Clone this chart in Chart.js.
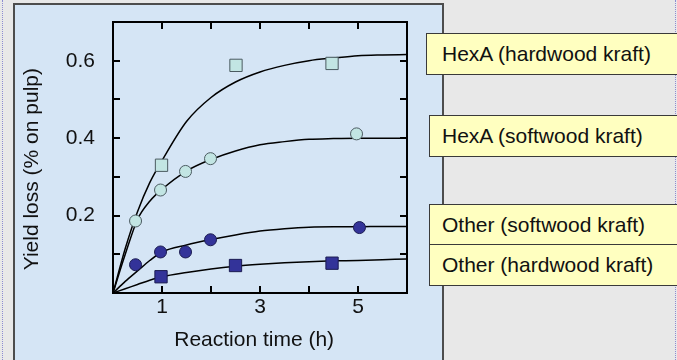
<!DOCTYPE html>
<html>
<head>
<meta charset="utf-8">
<script src="https://cdn.jsdelivr.net/npm/chart.js@4.4.0/dist/chart.umd.min.js"></script>
<style>
  html, body { margin: 0; padding: 0; }
  body { width: 677px; height: 360px; background: #e8e8e8; position: relative; overflow: hidden;
         font-family: "Liberation Sans", Arial, sans-serif; }
  .dots { position: absolute; top: 0; width: 0; height: 360px; border-left: 1px dotted #8c8cd2; }
  .panel { position: absolute; left: 13px; top: 3px; width: 431px; height: 380px; box-sizing: border-box;
           background: #d5e5f5; border: 2px solid #4d4d4d; }
  #chart { position: absolute; left: 0; top: 0; }
  .tag { position: absolute; height: 42px; width: 300px; box-sizing: border-box; background: #ffffc0;
         border: 1px solid #3a3a3a; font-size: 21px; line-height: 40px; color: #111; white-space: nowrap; }
</style>
</head>
<body>
<div class="dots" style="left:2px"></div>
<div class="dots" style="left:675px"></div>
<div class="panel"></div>
<canvas id="chart" width="677" height="360"></canvas>
<div id="tags"></div>
<script>
// series names (also used for the yellow label boxes)
const seriesNames = ['HexA (hardwood kraft)', 'HexA (softwood kraft)', 'Other (softwood kraft)', 'Other (hardwood kraft)'];

// measured points (reaction time h, yield loss % on pulp)
const hexaHardT = [0.99, 2.51, 4.47];
const hexaHardY = [0.33, 0.588, 0.593];
const hexaSoftT = [0.46, 0.97, 1.48, 1.99, 4.97];
const hexaSoftY = [0.186, 0.266, 0.314, 0.347, 0.411];
const otherSoftT = [0.46, 0.97, 1.48, 1.99, 5.03];
const otherSoftY = [0.073, 0.106, 0.106, 0.1375, 0.169];
const otherHardT = [0.98, 2.5, 4.47];
const otherHardY = [0.042, 0.071, 0.077];

// fitted curves
const curveT = [0, 0.25, 0.5, 0.75, 1, 1.5, 2, 2.5, 3, 3.5, 4, 4.5, 5, 5.5, 6];
const hexaHardFit = [0, 0.115, 0.21, 0.285, 0.342, 0.443, 0.505, 0.545, 0.571, 0.588, 0.6, 0.607, 0.613, 0.615, 0.616];
const hexaSoftFit = [0, 0.1, 0.19, 0.237, 0.268, 0.315, 0.345, 0.367, 0.383, 0.391, 0.397, 0.399, 0.4, 0.4, 0.4];
const otherSoftFit = [0, 0.03, 0.057, 0.084, 0.106, 0.124, 0.138, 0.15, 0.16, 0.166, 0.17, 0.171, 0.171, 0.172, 0.172];
const otherHardFit = [0, 0.011, 0.022, 0.033, 0.042, 0.053, 0.062, 0.069, 0.074, 0.078, 0.081, 0.083, 0.084, 0.086, 0.088];

// tick labels shown
const xLabels = [1, 3, 5];
const yLabels = ['0.2', '0.4', '0.6'];

const pts = (xs, ys) => xs.map((x, i) => ({ x, y: ys[i] }));

const lightFill = '#c2e5e3';
const darkFill = '#333399';

function marker(label, xs, ys, style, fill, border, r) {
  return {
    label, data: pts(xs, ys), showLine: false, order: 1,
    pointStyle: style, pointRadius: r, pointBackgroundColor: fill,
    pointBorderColor: border, pointBorderWidth: 1
  };
}
function curve(label, ys) {
  return {
    label, data: pts(curveT, ys), showLine: true, order: 2,
    borderColor: '#000', borderWidth: 1.5, pointRadius: 0,
    cubicInterpolationMode: 'monotone'
  };
}

// inward tick marks + frame around the plot
const frameTicks = {
  id: 'frameTicks',
  beforeDatasetsDraw(chart) {
    const { ctx, chartArea: a, scales: { x, y } } = chart;
    const len = 7;
    ctx.save();
    ctx.strokeStyle = '#000';
    ctx.lineWidth = 2;
    ctx.beginPath();
    x.ticks.forEach(t => {
      if (t.value <= x.min || t.value >= x.max) return;
      const px = Math.round(x.getPixelForValue(t.value));
      ctx.moveTo(px, a.bottom); ctx.lineTo(px, a.bottom - len);
      ctx.moveTo(px, a.top); ctx.lineTo(px, a.top + len);
    });
    y.ticks.forEach(t => {
      if (t.value <= y.min + 1e-9 || t.value >= y.max - 1e-9) return;
      const py = Math.round(y.getPixelForValue(t.value));
      ctx.moveTo(a.left, py); ctx.lineTo(a.left + len, py);
      ctx.moveTo(a.right, py); ctx.lineTo(a.right - len, py);
    });
    ctx.stroke();
    ctx.strokeRect(a.left, a.top, a.right - a.left, a.bottom - a.top);
    ctx.restore();
  }
};

Chart.defaults.font.family = '"Liberation Sans", Arial, sans-serif';
Chart.defaults.font.size = 21;
Chart.defaults.color = '#111';

new Chart(document.getElementById('chart'), {
  type: 'scatter',
  data: {
    datasets: [
      marker(seriesNames[0], hexaHardT, hexaHardY, 'rect', lightFill, '#4a5a60', 8.7),
      marker(seriesNames[1], hexaSoftT, hexaSoftY, 'circle', lightFill, '#4a5a60', 6),
      marker(seriesNames[2], otherSoftT, otherSoftY, 'circle', darkFill, '#1a1a50', 6),
      marker(seriesNames[3], otherHardT, otherHardY, 'rect', darkFill, '#1a1a50', 8.7),
      curve(seriesNames[0], hexaHardFit),
      curve(seriesNames[1], hexaSoftFit),
      curve(seriesNames[2], otherSoftFit),
      curve(seriesNames[3], otherHardFit)
    ]
  },
  options: {
    responsive: false,
    animation: false,
    devicePixelRatio: 1,
    layout: { padding: { left: 0, top: 22, right: 270, bottom: 0 } },
    plugins: { legend: { display: false }, tooltip: { enabled: false } },
    scales: {
      x: {
        type: 'linear', min: 0, max: 6,
        grid: { display: false, drawTicks: false },
        border: { display: false },
        ticks: {
          stepSize: 1, padding: 2,
          callback: v => xLabels.includes(v) ? String(v) : ''
        },
        title: { display: true, text: 'Reaction time (h)\u00a0\u00a0', padding: { top: 0, bottom: 7 } },
        afterFit: s => { s.height = 67; s.paddingLeft = 0; s.paddingRight = 0; }
      },
      y: {
        type: 'linear', min: 0, max: 0.7,
        grid: { display: false, drawTicks: false },
        border: { display: false },
        ticks: {
          stepSize: 0.1, padding: 18,
          callback: v => {
            const s = (Math.round(v * 10) / 10).toFixed(1);
            return yLabels.includes(s) ? s : '';
          }
        },
        title: { display: true, text: 'Yield loss (% on pulp)\u00a0\u00a0\u00a0\u00a0', padding: { top: 20, bottom: 0 } },
        afterFit: s => { s.width = 113; s.paddingTop = 0; s.paddingBottom = 0; }
      }
    }
  },
  plugins: [frameTicks]
});

// yellow label boxes to the right of the plot
const tagBoxes = [
  { left: 426, top: 33, height: 42 },
  { left: 429, top: 115, height: 42 },
  { left: 429, top: 204, height: 41 },
  { left: 429, top: 244, height: 42 }
];
const tags = document.getElementById('tags');
seriesNames.forEach((name, i) => {
  const b = tagBoxes[i];
  const d = document.createElement('div');
  d.className = 'tag';
  d.textContent = name;
  d.style.left = b.left + 'px';
  d.style.top = b.top + 'px';
  d.style.height = b.height + 'px';
  d.style.lineHeight = (b.height - 2) + 'px';
  d.style.paddingLeft = (442 - b.left - 1) + 'px';
  tags.appendChild(d);
});
</script>
</body>
</html>
